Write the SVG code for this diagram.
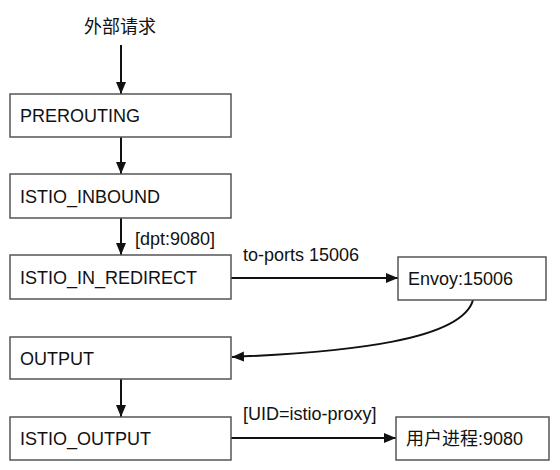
<svg xmlns="http://www.w3.org/2000/svg" width="560" height="470" viewBox="0 0 560 470">
<style>
.box{fill:#fff;stroke:#555;stroke-width:1.5}
.t{font-family:"Liberation Sans",Arial,"Noto Sans CJK SC",sans-serif;font-size:18px;fill:#111}
.c{stroke:#111;stroke-width:2;fill:none}
</style>
<defs>
<marker id="ah" viewBox="0 0 12 10" refX="12" refY="5" markerWidth="12" markerHeight="10" markerUnits="userSpaceOnUse" orient="auto">
<path d="M0,0 L12,5 L0,10 Z" fill="#111"/>
</marker>
</defs>
<rect width="560" height="470" fill="#fff"/>
<text class="t" x="120" y="33" text-anchor="middle">外部请求</text>
<g id="connectors">
<line class="c" x1="121" y1="45" x2="121" y2="94" marker-end="url(#ah)"/>
<line class="c" x1="121" y1="137" x2="121" y2="174" marker-end="url(#ah)"/>
<line class="c" x1="121" y1="218" x2="121" y2="255" marker-end="url(#ah)"/>
<line class="c" x1="231" y1="278" x2="398" y2="278" marker-end="url(#ah)"/>
<path class="c" d="M473,300 C462,340 350,352 232,357" marker-end="url(#ah)"/>
<line class="c" x1="121" y1="379" x2="121" y2="417" marker-end="url(#ah)"/>
<line class="c" x1="231" y1="438" x2="396" y2="438" marker-end="url(#ah)"/>
<text class="t" x="135" y="245">[dpt:9080]</text>
<text class="t" x="243" y="261">to-ports 15006</text>
<text class="t" x="243" y="420">[UID=istio-proxy]</text>
</g>
<g id="prerouting"><rect class="box" x="10" y="94" width="221" height="43"/><text class="t" x="20" y="122">PREROUTING</text></g>
<g id="istio_inbound"><rect class="box" x="10" y="174" width="221" height="44"/><text class="t" x="20" y="203">ISTIO_INBOUND</text></g>
<g id="istio_in_redirect"><rect class="box" x="10" y="255" width="221" height="44"/><text class="t" x="20" y="284">ISTIO_IN_REDIRECT</text></g>
<g id="envoy"><rect class="box" x="398" y="257" width="148" height="43"/><text class="t" x="408" y="285">Envoy:15006</text></g>
<g id="output"><rect class="box" x="10" y="337" width="221" height="42"/><text class="t" x="20" y="365">OUTPUT</text></g>
<g id="istio_output"><rect class="box" x="10" y="417" width="221" height="43"/><text class="t" x="20" y="445">ISTIO_OUTPUT</text></g>
<g id="user_process"><rect class="box" x="396" y="417" width="153" height="43"/><text class="t" x="406" y="445">用户进程:9080</text></g>
</svg>
